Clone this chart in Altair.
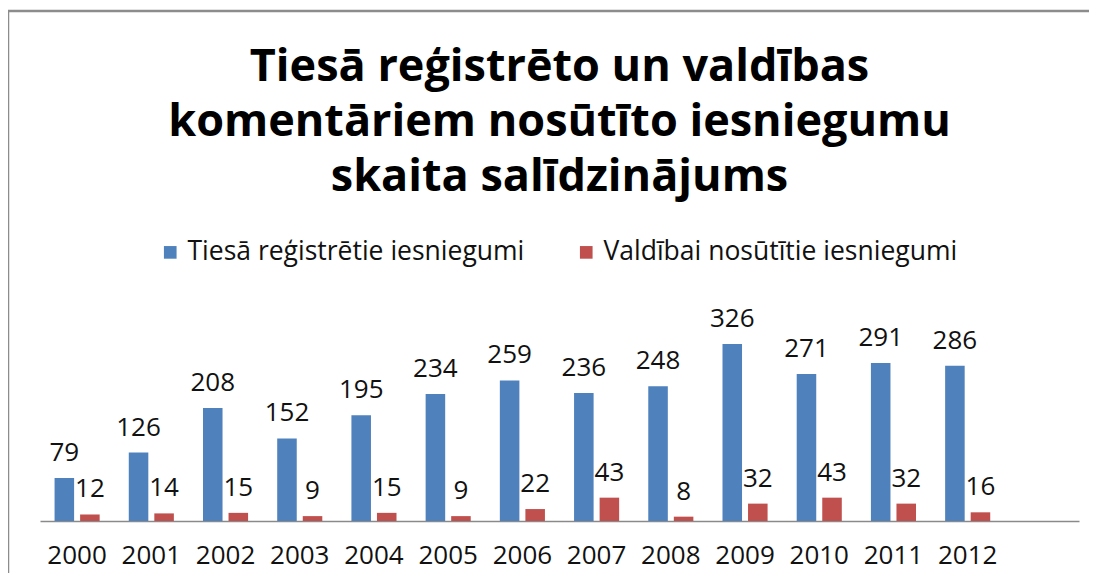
import altair as alt
import pandas as pd

years = [str(y) for y in range(2000, 2013)]
registered = [79, 126, 208, 152, 195, 234, 259, 236, 248, 326, 271, 291, 286]
sent = [12, 14, 15, 9, 15, 9, 22, 43, 8, 32, 43, 32, 16]
series_names = ["Tiesā reģistrētie iesniegumi", "Valdībai nosūtītie iesniegumi"]
series_colors = ["#4F81BD", "#C0504D"]
title_lines = ["Tiesā reģistrēto un valdības", "komentāriem nosūtīto iesniegumu", "skaita salīdzinājums"]

rows = []
for i, y in enumerate(years):
    rows.append({"year": y, "series": series_names[0], "value": registered[i]})
    rows.append({"year": y, "series": series_names[1], "value": sent[i]})
df = pd.DataFrame(rows)

domain = years + [" "]
FONT = "Open Sans"

x_enc = alt.X("year:N", scale=alt.Scale(domain=domain, paddingInner=0, paddingOuter=0),
              sort=domain,
              axis=alt.Axis(title=None, ticks=False, labelAngle=0, labelPadding=21,
                            labelFont=FONT, labelFontSize=26, labelColor="#111",
                            domainColor="#8a8a8a", domainWidth=1.5))
xoff = alt.XOffset("series:N", sort=series_names,
                   scale=alt.Scale(paddingInner=0.235, paddingOuter=0.57))
y_enc = alt.Y("value:Q", scale=alt.Scale(domain=[0, 350]), axis=None)

bars = alt.Chart(df).mark_bar().encode(
    x=x_enc, xOffset=xoff, y=y_enc,
    color=alt.Color("series:N", sort=series_names,
                    scale=alt.Scale(domain=series_names, range=series_colors),
                    legend=alt.Legend(title=None, orient="none", direction="horizontal",
                                      legendX=117, legendY=-92,
                                      symbolType="square", symbolSize=160,
                                      symbolStrokeWidth=0, labelLimit=0,
                                      labelFont=FONT, labelFontSize=26.5, labelColor="#111",
                                      columnPadding=48, symbolOffset=0, labelOffset=4)),
)

labels = alt.Chart(df).mark_text(baseline="middle", dy=-25, font=FONT, fontSize=26, color="#111").encode(
    x=x_enc, xOffset=xoff, y=y_enc, text="value:Q",
)

border = alt.Chart(pd.DataFrame({"a": [0]})).mark_rect(
    fill=None, stroke="#8c8c8c", strokeWidth=2.5
).encode(x=alt.value(-32), x2=alt.value(1100), y=alt.value(-320), y2=alt.value(400))

chart = alt.layer(border, bars, labels).properties(
    width=1039, height=190,
    autosize=alt.AutoSizeParams(type="none"),
    padding={"left": 32, "top": 323, "right": 10, "bottom": 52},
    title=alt.TitleParams(text=title_lines, font=FONT, fontSize=45, fontWeight="bold",
                          color="#000", anchor="middle", frame="group", offset=-190,
                          lineHeight=55),
).configure(background="white").configure_view(strokeWidth=0, stroke="transparent")

chart.save("out.html", embed_options={"renderer": "svg", "actions": False})
